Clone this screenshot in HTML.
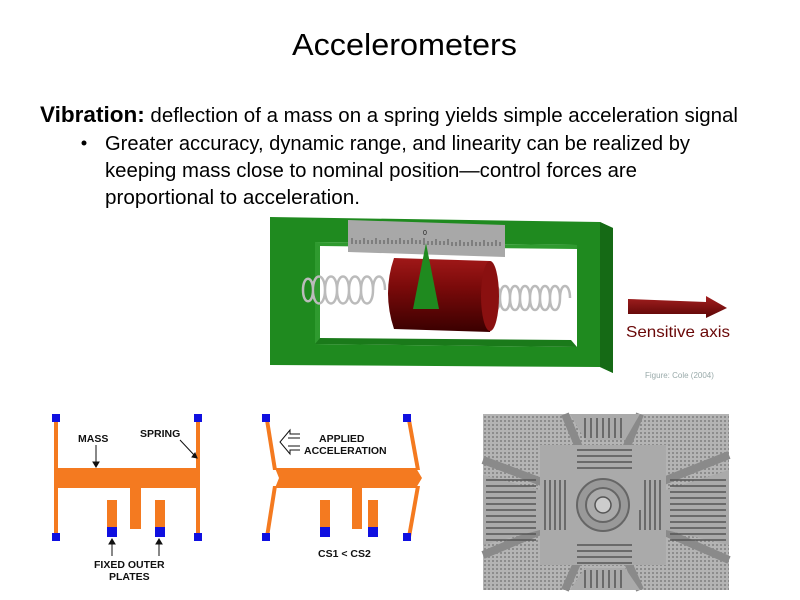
<!DOCTYPE html>
<html><head><style>html,body{margin:0;padding:0;background:#fff;}svg{display:block}</style></head>
<body>
<svg width="800" height="600" xmlns="http://www.w3.org/2000/svg" font-family="Liberation Sans, sans-serif">
<defs>
<linearGradient id="cyl" x1="0" y1="0" x2="0" y2="1"><stop offset="0" stop-color="#a01818"/><stop offset="0.4" stop-color="#7a0a0a"/><stop offset="1" stop-color="#3a0000"/></linearGradient>
<linearGradient id="arr" x1="0" y1="0" x2="0" y2="1"><stop offset="0" stop-color="#a52020"/><stop offset="1" stop-color="#5a0505"/></linearGradient>
<pattern id="dots" width="4" height="4" patternUnits="userSpaceOnUse"><rect width="4" height="4" fill="#b4b4b4"/><rect width="2" height="2" fill="#8c8c8c"/></pattern>
</defs>
<text x="292" y="55" font-size="31" textLength="225" lengthAdjust="spacingAndGlyphs" fill="#000">Accelerometers</text>
<text x="40" y="122" font-size="22" textLength="698" lengthAdjust="spacingAndGlyphs"><tspan font-weight="bold">Vibration:</tspan><tspan font-size="20"> deflection of a mass on a spring yields simple acceleration signal</tspan></text>
<circle cx="84" cy="143" r="2.5" fill="#000"/>
<text x="105" y="150" font-size="20" textLength="585" lengthAdjust="spacingAndGlyphs">Greater accuracy, dynamic range, and linearity can be realized by</text>
<text x="105" y="177" font-size="20" textLength="532" lengthAdjust="spacingAndGlyphs">keeping mass close to nominal position—control forces are</text>
<text x="105" y="204" font-size="20" textLength="255" lengthAdjust="spacingAndGlyphs">proportional to acceleration.</text>

<polygon points="270,217 600,222 613,228 613,373 600,367 270,365" fill="#1f8a1f"/>
<polygon points="600,222 613,228 613,373 600,367" fill="#156a15"/>
<polygon points="315,242 577,245 577,347 315,344" fill="#fff"/>
<polygon points="315,242 577,245 577,249 320,246 320,344 315,344" fill="#2f9a2f"/>
<polygon points="315,344 577,347 571,340 320,338" fill="#1a7a1a"/>
<g fill="none" stroke="#bbb" stroke-width="2.5">
<path d="M303,290 c0,-15 10,-15 10,0 c0,15 -10,15 -10,0 M313,290 c0,-18 12,-18 12,0 c0,18 -12,18 -12,0 M325,290 c0,-18 12,-18 12,0 c0,18 -12,18 -12,0 M337,290 c0,-18 12,-18 12,0 c0,18 -12,18 -12,0 M349,290 c0,-18 12,-18 12,0 c0,18 -12,18 -12,0 M361,290 c0,-18 12,-18 12,0 c0,18 -12,18 -12,0 M373,290 c0,-18 12,-18 12,0"/>
<path d="M490,298 c0,-16 10,-16 10,0 c0,16 -10,16 -10,0 M500,298 c0,-16 10,-16 10,0 c0,16 -10,16 -10,0 M510,298 c0,-16 10,-16 10,0 c0,16 -10,16 -10,0 M520,298 c0,-16 10,-16 10,0 c0,16 -10,16 -10,0 M530,298 c0,-16 10,-16 10,0 c0,16 -10,16 -10,0 M540,298 c0,-16 10,-16 10,0 c0,16 -10,16 -10,0 M550,298 c0,-16 10,-16 10,0 c0,16 -10,16 -10,0 M560,298 c0,-16 10,-16 10,0"/>
</g>
<path d="M394,258 L490,261 Q500,296 490,332 L394,329 Q382,293 394,258Z" fill="url(#cyl)"/>
<ellipse cx="490" cy="296" rx="9" ry="35" fill="#8a1010"/>
<polygon points="348,220 505,225 505,257 348,252" fill="#a8a8a8"/>
<g stroke="#333" stroke-width="0.7">
<path d="M352,244v-6M356,244v-4M360,244v-4M364,244v-6M368,244v-4M372,244v-4M376,244v-6M380,244v-4M384,244v-4M388,244v-6M392,244v-4M396,244v-4M400,244v-6M404,244v-4M408,244v-4M412,244v-6M416,244v-4M420,244v-4M424,245v-7M428,245v-4M432,245v-4M436,245v-6M440,245v-4M444,245v-4M448,245v-6M452,246v-4M456,246v-4M460,246v-6M464,246v-4M468,246v-4M472,246v-6M476,246v-4M480,246v-4M484,246v-6M488,246v-4M492,246v-4M496,246v-6M500,246v-4"/>
</g>
<text x="423" y="235" font-size="7" fill="#222">0</text>
<polygon points="426,243 413,309 439,309" fill="#1f8a1f"/>
<polygon points="628,299 706,302 706,296 727,308 706,318 706,314 628,314" fill="url(#arr)"/>
<text x="626" y="337" font-size="16" fill="#6a0808" textLength="104" lengthAdjust="spacingAndGlyphs">Sensitive axis</text>
<text x="645" y="378" font-size="8" fill="#9aa">Figure: Cole (2004)</text>

<g fill="#f47a20">
<rect x="54" y="420" width="4" height="117"/>
<rect x="196" y="420" width="4" height="117"/>
<rect x="56" y="468" width="144" height="20"/>
<rect x="130" y="488" width="11" height="41"/>
<rect x="107" y="500" width="10" height="30"/>
<rect x="155" y="500" width="10" height="30"/>
</g>
<g fill="#1010e0">
<rect x="52" y="414" width="8" height="8"/><rect x="194" y="414" width="8" height="8"/>
<rect x="52" y="533" width="8" height="8"/><rect x="194" y="533" width="8" height="8"/>
<rect x="107" y="527" width="10" height="10"/><rect x="155" y="527" width="10" height="10"/>
</g>
<g font-size="10.5" font-weight="bold" fill="#111">
<text x="78" y="442">MASS</text>
<text x="140" y="437">SPRING</text>
<text x="94" y="568">FIXED OUTER</text>
<text x="109" y="580">PLATES</text>
<text x="319" y="442">APPLIED</text>
<text x="304" y="454">ACCELERATION</text>
<text x="318" y="557">CS1 &lt; CS2</text>
</g>
<g stroke="#111" stroke-width="1" fill="#111">
<path d="M96,445 V464"/><polygon points="93,462 99,462 96,467"/>
<path d="M180,440 L195,456"/><polygon points="192,457 197,458 195,453"/>
<path d="M112,556 V542"/><polygon points="109,544 115,544 112,539"/>
<path d="M159,556 V542"/><polygon points="156,544 162,544 159,539"/>
</g>
<g fill="none" stroke="#111" stroke-width="1"><path d="M300,434 h-10 v-4 l-10,12 l10,12 v-4 h10"/><path d="M300,438 h-12 M300,446 h-12"/></g>
<g fill="#f47a20">
<polygon points="265,420 269,420 277,470 273,470"/>
<polygon points="407,420 411,420 420,470 416,470"/>
<polygon points="273,486 277,486 269,537 265,537"/>
<polygon points="416,486 420,486 411,537 407,537"/>
<polygon points="275,468 416,468 422,478 416,488 275,488 279,478"/>
<rect x="352" y="488" width="10" height="41"/>
<rect x="320" y="500" width="10" height="30"/>
<rect x="368" y="500" width="10" height="30"/>
</g>
<g fill="#1010e0">
<rect x="262" y="414" width="8" height="8"/><rect x="403" y="414" width="8" height="8"/>
<rect x="262" y="533" width="8" height="8"/><rect x="403" y="533" width="8" height="8"/>
<rect x="320" y="527" width="10" height="10"/><rect x="368" y="527" width="10" height="10"/>
</g>

<rect x="483" y="414" width="246" height="176" fill="url(#dots)"/>
<g stroke="#8a8a8a" stroke-width="8" fill="none">
<path d="M483,460 L603,505 L729,455"/><path d="M483,555 L603,505 L729,560"/>
<path d="M565,414 L603,505 L640,414"/><path d="M565,590 L603,505 L640,590"/>
</g>
<g fill="#aaaaaa">
<rect x="540" y="445" width="126" height="120"/>
<polygon points="483,475 540,490 540,530 483,545"/>
<polygon points="729,470 666,490 666,530 729,545"/>
<polygon points="570,414 640,414 625,440 585,440"/>
<polygon points="570,590 640,590 625,568 585,568"/>
</g>
<g stroke="#555" stroke-width="1.5">
<path d="M486,480h50M486,486h50M486,492h50M486,498h50M486,504h50M486,510h50M486,516h50M486,522h50M486,528h50M486,534h50M486,540h50"/>
<path d="M670,480h56M670,486h56M670,492h56M670,498h56M670,504h56M670,510h56M670,516h56M670,522h56M670,528h56M670,534h56M670,540h56"/>
<path d="M585,418v20M591,418v20M597,418v20M603,418v20M609,418v20M615,418v20M621,418v20"/>
<path d="M585,570v18M591,570v18M597,570v18M603,570v18M609,570v18M615,570v18M621,570v18"/>
<path d="M545,480v30M550,480v30M555,480v30M560,480v30M565,480v30M545,510v20M550,510v20M555,510v20M560,510v20M565,510v20"/>
<path d="M645,480v30M650,480v30M655,480v30M660,480v30M640,510v20M645,510v20M650,510v20M655,510v20M660,510v20"/>
<path d="M577,450h55M577,456h55M577,462h55M577,468h55M577,545h55M577,551h55M577,557h55M577,563h55"/>
</g>
<circle cx="603" cy="505" r="26" fill="#999" stroke="#666" stroke-width="2"/>
<circle cx="603" cy="505" r="17" fill="#aaa" stroke="#666" stroke-width="2"/>
<circle cx="603" cy="505" r="8" fill="#ccc" stroke="#555" stroke-width="1.5"/>
</svg>
</body></html>
